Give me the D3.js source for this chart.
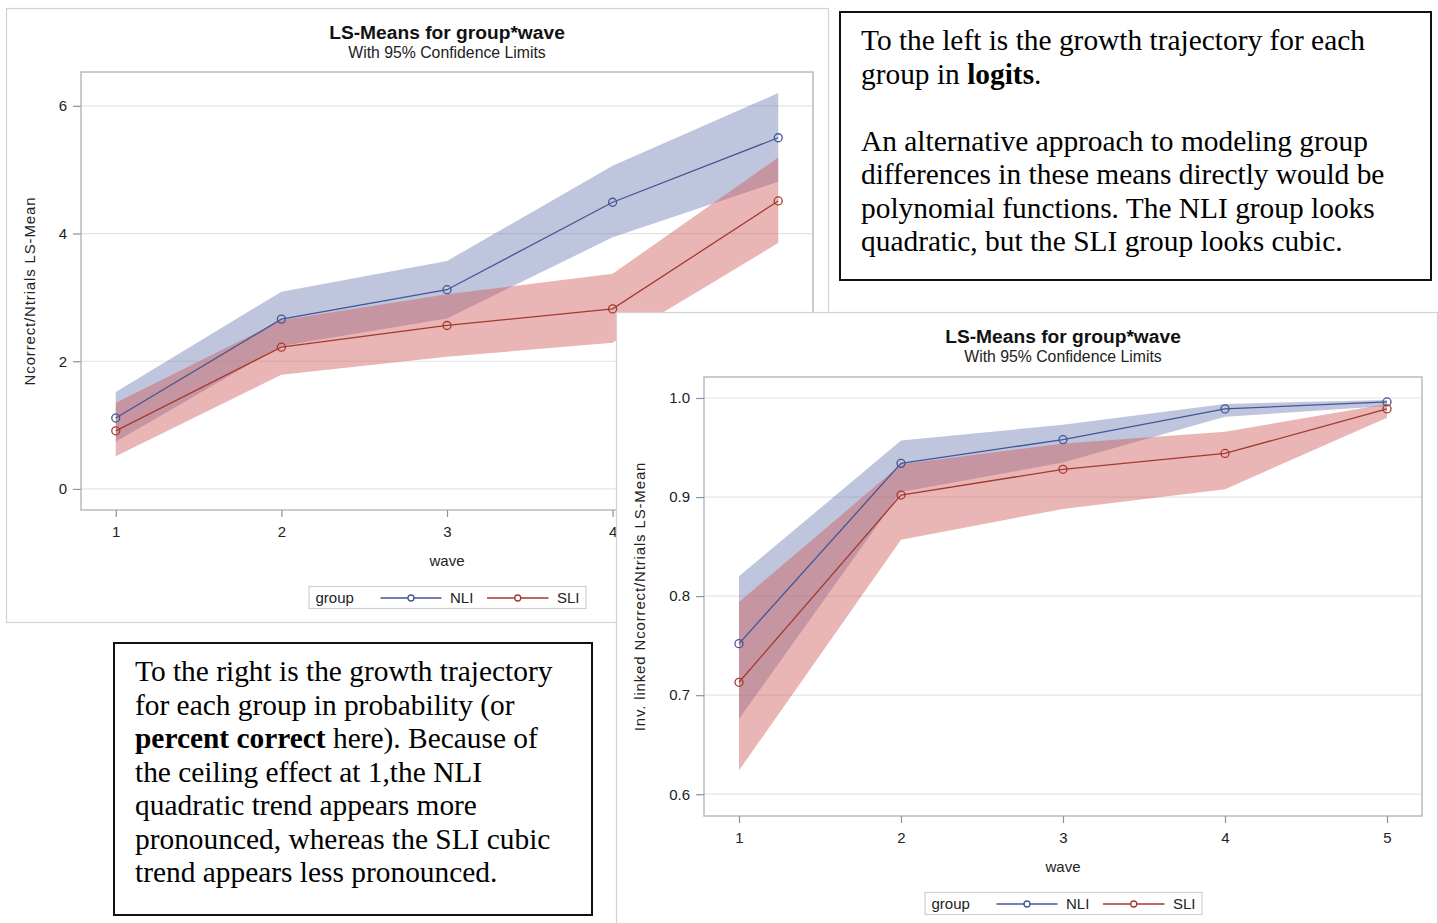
<!DOCTYPE html>
<html>
<head>
<meta charset="utf-8">
<script src="https://cdn.jsdelivr.net/npm/d3@7"></script>
<style>
  body { margin: 0; background: #fff; }
  svg { display: block; }
</style>
</head>
<body>
<svg id="canvas" width="1438" height="923"></svg>
<script>
// ---- data ----
const waves = [1, 2, 3, 4, 5];
const groups = ["NLI", "SLI"];

// LS-means on the logit scale, with 95% limits
const logitNLI      = [1.11, 2.66, 3.12, 4.49, 5.50];
const logitNLILower = [0.74, 2.24, 2.67, 3.94, 4.81];
const logitNLIUpper = [1.52, 3.09, 3.57, 5.06, 6.20];
const logitSLI      = [0.91, 2.22, 2.56, 2.82, 4.51];
const logitSLILower = [0.51, 1.79, 2.07, 2.29, 3.85];
const logitSLIUpper = [1.35, 2.64, 3.05, 3.37, 5.19];

// LS-means after the inverse link (proportion correct), with 95% limits
const probNLI      = [0.752, 0.934, 0.958, 0.989, 0.996];
const probNLILower = [0.676, 0.905, 0.935, 0.981, 0.992];
const probNLIUpper = [0.820, 0.957, 0.973, 0.994, 0.998];
const probSLI      = [0.713, 0.902, 0.928, 0.944, 0.989];
const probSLILower = [0.624, 0.857, 0.888, 0.908, 0.980];
const probSLIUpper = [0.794, 0.933, 0.954, 0.966, 0.994];

const logitTicks = [0, 2, 4, 6];
const probTicks = [0.6, 0.7, 0.8, 0.9, 1.0];

const chartTitle = "LS-Means for group*wave";
const chartSubtitle = "With 95% Confidence Limits";
const xLabel = "wave";
const legendTitle = "group";

// ---- styles ----
const lineColor = { NLI: "#445694", SLI: "#A23A2E" };
const bandColor = { NLI: "#6F7EB3", SLI: "#D05B5B" };
const sansFont = "'Liberation Sans', Arial, Helvetica, sans-serif";
const serifFont = "'Liberation Serif', 'Times New Roman', Times, serif";

const svg = d3.select("#canvas");

function drawChart(cfg) {
  const g = svg.append("g");

  // outer panel
  g.append("rect")
    .attr("x", cfg.panel.x + 0.5).attr("y", cfg.panel.y + 0.5)
    .attr("width", cfg.panel.w).attr("height", cfg.panel.h)
    .attr("fill", "#fff").attr("stroke", "#d2d2d2").attr("stroke-width", 1.2);

  const p = cfg.plot;
  const x = d3.scaleLinear().domain(cfg.xDomain).range([p.x0, p.x1]);
  const y = d3.scaleLinear().domain(cfg.yDomain).range([p.y1, p.y0]);
  const cx = (p.x0 + p.x1) / 2;

  // titles
  g.append("text")
    .attr("x", cx).attr("y", cfg.panel.y + 31)
    .attr("text-anchor", "middle")
    .style("font-family", sansFont).style("font-weight", "bold")
    .style("font-size", "19.2px").attr("fill", "#111")
    .text(chartTitle);
  g.append("text")
    .attr("x", cx).attr("y", cfg.panel.y + 50)
    .attr("text-anchor", "middle")
    .style("font-family", sansFont).style("font-size", "15.8px")
    .attr("fill", "#222")
    .text(chartSubtitle);

  // grid lines
  g.append("g").selectAll("line").data(cfg.yTicks).join("line")
    .attr("x1", p.x0).attr("x2", p.x1)
    .attr("y1", d => y(d)).attr("y2", d => y(d))
    .attr("stroke", "#e4e4e4").attr("stroke-width", 1.2);

  // confidence bands and mean lines
  const series = groups.map(k => ({
    key: k,
    mean: cfg.data[k].mean,
    lo: cfg.data[k].lo,
    hi: cfg.data[k].hi
  }));

  const area = d3.area()
    .x((d, i) => x(waves[i]))
    .y0(d => y(d[0]))
    .y1(d => y(d[1]));

  g.append("g").selectAll("path").data(series).join("path")
    .attr("d", s => area(s.lo.map((v, i) => [v, s.hi[i]])))
    .attr("fill", s => bandColor[s.key])
    .attr("fill-opacity", 0.45);

  const line = d3.line().x((d, i) => x(waves[i])).y(d => y(d));
  g.append("g").selectAll("path").data(series).join("path")
    .attr("d", s => line(s.mean))
    .attr("fill", "none")
    .attr("stroke", s => lineColor[s.key])
    .attr("stroke-width", 1.3);

  series.forEach(s => {
    g.append("g").selectAll("circle").data(s.mean).join("circle")
      .attr("cx", (d, i) => x(waves[i])).attr("cy", d => y(d))
      .attr("r", 4)
      .attr("fill", "none")
      .attr("stroke", lineColor[s.key]).attr("stroke-width", 1.3);
  });

  // plot frame
  g.append("rect")
    .attr("x", p.x0).attr("y", p.y0)
    .attr("width", p.x1 - p.x0).attr("height", p.y1 - p.y0)
    .attr("fill", "none").attr("stroke", "#b6bcc2").attr("stroke-width", 1.5);

  // axes
  const yAxis = d3.axisLeft(y).tickValues(cfg.yTicks).tickFormat(cfg.yFormat)
    .tickSizeInner(8).tickSizeOuter(0).tickPadding(6);
  const ya = g.append("g").attr("transform", `translate(${p.x0},0)`).call(yAxis);
  const xAxis = d3.axisBottom(x).tickValues(waves).tickFormat(d3.format("d"))
    .tickSizeInner(7).tickSizeOuter(0).tickPadding(9);
  const xa = g.append("g").attr("transform", `translate(0,${p.y1})`).call(xAxis);
  [ya, xa].forEach(a => {
    a.select(".domain").remove();
    a.selectAll(".tick line").attr("stroke", "#8c9399").attr("stroke-width", 1.2);
    a.selectAll(".tick text")
      .style("font-family", sansFont).style("font-size", "15px").attr("fill", "#222");
  });

  // axis labels
  g.append("text")
    .attr("x", cx).attr("y", p.y1 + 56)
    .attr("text-anchor", "middle")
    .style("font-family", sansFont).style("font-size", "15px").attr("fill", "#222")
    .text(xLabel);
  g.append("text")
    .attr("transform", `translate(${cfg.yLabelX},${(p.y0 + p.y1) / 2}) rotate(-90)`)
    .attr("text-anchor", "middle")
    .style("font-family", sansFont).style("font-size", "15px")
    .style("letter-spacing", "0.85px").attr("fill", "#222")
    .text(cfg.yLabel);

  // legend
  const lw = 277, lh = 22;
  const lx = cx - lw / 2, ly = p.y1 + 76;
  const lg = g.append("g").attr("transform", `translate(${lx},${ly})`);
  lg.append("rect").attr("x", 0.5).attr("y", 0.5).attr("width", lw).attr("height", lh)
    .attr("fill", "#fff").attr("stroke", "#cfcfcf").attr("stroke-width", 1.2);
  lg.append("text").attr("x", 7).attr("y", lh / 2 + 5.5)
    .style("font-family", sansFont).style("font-size", "15px").attr("fill", "#222")
    .text(legendTitle);
  const items = [
    { key: "NLI", x0: 72, x1: 133, tx: 141.5 },
    { key: "SLI", x0: 178.5, x1: 240, tx: 248.5 }
  ];
  items.forEach(it => {
    const my = lh / 2 + 1;
    lg.append("line").attr("x1", it.x0).attr("x2", it.x1).attr("y1", my).attr("y2", my)
      .attr("stroke", lineColor[it.key]).attr("stroke-width", 1.3);
    lg.append("circle").attr("cx", (it.x0 + it.x1) / 2).attr("cy", my).attr("r", 3)
      .attr("fill", "#fff").attr("stroke", lineColor[it.key]).attr("stroke-width", 1.3);
    lg.append("text").attr("x", it.tx).attr("y", lh / 2 + 5.5)
      .style("font-family", sansFont).style("font-size", "15px").attr("fill", "#222")
      .text(it.key);
  });
}

function drawNote(box, lines) {
  const g = svg.append("g");
  g.append("rect")
    .attr("x", box.x).attr("y", box.y).attr("width", box.w).attr("height", box.h)
    .attr("fill", "#fff").attr("stroke", "#111").attr("stroke-width", 2);
  lines.forEach(l => {
    const t = g.append("text")
      .attr("x", box.tx).attr("y", l.y)
      .style("font-family", serifFont).style("font-size", "29.4px").attr("fill", "#000");
    l.parts.forEach(pt => {
      t.append("tspan").style("font-weight", pt.b ? "bold" : "normal").text(pt.t);
    });
  });
}

// logit-scale chart
drawChart({
  panel: { x: 6, y: 8, w: 822, h: 614 },
  plot: { x0: 81, x1: 813, y0: 72, y1: 510 },
  xDomain: [0.79, 5.21],
  yDomain: [-0.33, 6.53],
  yTicks: logitTicks,
  yFormat: d3.format("d"),
  yLabel: "Ncorrect/Ntrials LS-Mean",
  yLabelX: 35,
  data: {
    NLI: { mean: logitNLI, lo: logitNLILower, hi: logitNLIUpper },
    SLI: { mean: logitSLI, lo: logitSLILower, hi: logitSLIUpper }
  }
});

// note below the logit chart
drawNote({ x: 114, y: 643, w: 478, h: 272, tx: 135 }, [
  { y: 681, parts: [{ t: "To the right is the growth trajectory" }] },
  { y: 714.5, parts: [{ t: "for each group in probability (or" }] },
  { y: 748, parts: [{ t: "percent correct", b: true }, { t: " here). Because of" }] },
  { y: 781.5, parts: [{ t: "the ceiling effect at 1,the NLI" }] },
  { y: 815, parts: [{ t: "quadratic trend appears more" }] },
  { y: 848.5, parts: [{ t: "pronounced, whereas the SLI cubic" }] },
  { y: 882, parts: [{ t: "trend appears less pronounced." }] }
]);

// probability-scale chart
drawChart({
  panel: { x: 616, y: 312, w: 821, h: 620 },
  plot: { x0: 704, x1: 1422, y0: 377, y1: 816 },
  xDomain: [0.784, 5.216],
  yDomain: [0.578, 1.0212],
  yTicks: probTicks,
  yFormat: d3.format(".1f"),
  yLabel: "Inv. linked Ncorrect/Ntrials LS-Mean",
  yLabelX: 645,
  data: {
    NLI: { mean: probNLI, lo: probNLILower, hi: probNLIUpper },
    SLI: { mean: probSLI, lo: probSLILower, hi: probSLIUpper }
  }
});

// note beside the logit chart
drawNote({ x: 840, y: 12, w: 591, h: 268, tx: 861 }, [
  { y: 50, parts: [{ t: "To the left is the growth trajectory for each" }] },
  { y: 83.5, parts: [{ t: "group in " }, { t: "logits", b: true }, { t: "." }] },
  { y: 150.5, parts: [{ t: "An alternative approach to modeling group" }] },
  { y: 184, parts: [{ t: "differences in these means directly would be" }] },
  { y: 217.5, parts: [{ t: "polynomial functions. The NLI group looks" }] },
  { y: 251, parts: [{ t: "quadratic, but the SLI group looks cubic." }] }
]);
</script>
</body>
</html>
